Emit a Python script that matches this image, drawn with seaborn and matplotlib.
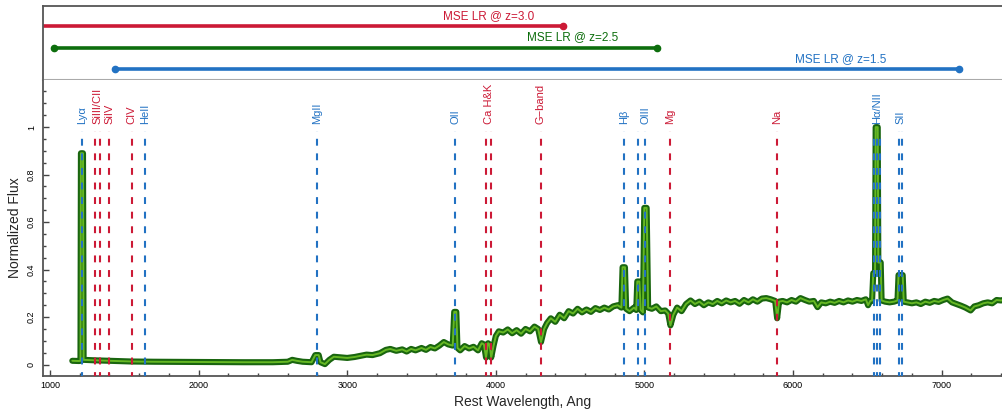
import numpy as np
import pandas as pd
import matplotlib
matplotlib.use("Agg")
import matplotlib.pyplot as plt
from matplotlib.ticker import MultipleLocator, FormatStrFormatter
import seaborn as sns

# composite spectrum (rest wavelength, normalized flux)
wave = [1150, 1195, 1205, 1208, 1222, 1226, 1300, 1400, 1550, 1700, 2000, 2300, 2500,
        2600, 2630, 2660, 2700, 2760, 2785, 2808, 2820, 2850, 2880, 2910, 2960, 3000,
        3050, 3100, 3130, 3170, 3220, 3260, 3290, 3330, 3370, 3400, 3430, 3460, 3500,
        3530, 3560, 3590, 3620, 3650, 3680, 3710, 3720, 3734, 3742, 3760, 3790, 3820,
        3850, 3880, 3905, 3920, 3934, 3948, 3958, 3969, 3985, 4000, 4020, 4050, 4080,
        4110, 4140, 4170, 4200, 4230, 4260, 4285, 4304, 4325, 4345, 4370, 4400, 4430,
        4460, 4490, 4520, 4550, 4580, 4610, 4640, 4670, 4700, 4730, 4760, 4790, 4820,
        4845, 4853, 4869, 4877, 4900, 4930, 4945, 4952, 4966, 4975, 4990, 4999, 5015,
        5025, 5050, 5080, 5110, 5140, 5160, 5175, 5195, 5220, 5250, 5280, 5310, 5340,
        5370, 5400, 5430, 5460, 5490, 5520, 5550, 5580, 5610, 5640, 5670, 5700, 5730,
        5760, 5790, 5820, 5850, 5880, 5893, 5906, 5930, 5960, 5990, 6020, 6050, 6080,
        6110, 6140, 6165, 6190, 6220, 6250, 6280, 6310, 6340, 6370, 6400, 6430, 6460,
        6490, 6505, 6520, 6532, 6540, 6552, 6556, 6570, 6574, 6590, 6596, 6620, 6650,
        6680, 6703, 6710, 6738, 6745, 6770, 6800, 6830, 6860, 6890, 6920, 6950, 6980,
        7010, 7040, 7070, 7100, 7130, 7160, 7195, 7220, 7250, 7280, 7310, 7340, 7370,
        7400, 7430]
flux = [0.016, 0.015, 0.016, 0.89, 0.89, 0.020, 0.018, 0.016, 0.013, 0.012, 0.011, 0.010, 0.010,
        0.012, 0.020, 0.016, 0.012, 0.010, 0.040, 0.040, 0.010, 0.002, 0.020, 0.033, 0.030, 0.028,
        0.032, 0.038, 0.042, 0.040, 0.048, 0.062, 0.066, 0.058, 0.064, 0.055, 0.066, 0.060, 0.070,
        0.062, 0.074, 0.068, 0.080, 0.095, 0.085, 0.080, 0.222, 0.222, 0.070, 0.060, 0.078, 0.068,
        0.075, 0.060, 0.090, 0.085, 0.030, 0.090, 0.085, 0.030, 0.080, 0.120, 0.140, 0.135, 0.148,
        0.132, 0.145, 0.130, 0.150, 0.140, 0.160, 0.150, 0.095, 0.150, 0.175, 0.195, 0.180, 0.210,
        0.195, 0.225, 0.215, 0.235, 0.220, 0.232, 0.222, 0.238, 0.230, 0.240, 0.232, 0.245, 0.250,
        0.240, 0.410, 0.410, 0.235, 0.225, 0.240, 0.230, 0.350, 0.350, 0.230, 0.220, 0.660, 0.660,
        0.240, 0.235, 0.245, 0.225, 0.228, 0.215, 0.165, 0.210, 0.240, 0.225, 0.255, 0.270, 0.255,
        0.265, 0.250, 0.262, 0.255, 0.268, 0.258, 0.270, 0.262, 0.268, 0.256, 0.272, 0.262, 0.275,
        0.265, 0.278, 0.280, 0.275, 0.268, 0.195, 0.265, 0.268, 0.262, 0.272, 0.265, 0.280, 0.272,
        0.265, 0.268, 0.242, 0.262, 0.258, 0.265, 0.260, 0.268, 0.262, 0.270, 0.265, 0.272, 0.268,
        0.275, 0.250, 0.268, 0.270, 0.385, 0.385, 1.000, 1.000, 0.430, 0.430, 0.270, 0.265, 0.262,
        0.265, 0.270, 0.377, 0.377, 0.265, 0.262, 0.258, 0.262, 0.255, 0.265, 0.260, 0.268, 0.264,
        0.272, 0.278, 0.262, 0.255, 0.248, 0.240, 0.228, 0.245, 0.250, 0.258, 0.262, 0.258, 0.272,
        0.270, 0.275]

# line markers
blue_lines = [1216, 1640, 2798, 3727, 4861, 4959, 5007, 6548, 6563, 6583, 6716, 6731]
red_lines = [1304, 1335, 1397, 1549, 3934, 3969, 4304, 5175, 5893]
blue_labels = ["Ly\u03b1", "HeII", "MgII", "OII", "H\u03b2", "OIII", "H\u03b1/NII", "SII"]
blue_label_x = [1216, 1640, 2798, 3727, 4861, 5007, 6563, 6724]
red_labels = ["SiIII/CII", "SiIV", "CIV", "Ca H&K", "G\u2212band", "Mg", "Na"]
red_label_x = [1320, 1397, 1549, 3951, 4304, 5175, 5893]

# MSE LR coverage in rest frame
cov_labels = ["MSE LR @ z=3.0", "MSE LR @ z=2.5", "MSE LR @ z=1.5"]
cov_start = [900, 1029, 1440]
cov_end = [4450, 5086, 7120]
cov_level = [3, 2, 1]
cov_text_x = [3950, 4514, 6320]

RED = "#cc1a36"
BLUE = "#2272c3"
GREEN = "#0d6e0d"

sns.set_theme(style="ticks")
plt.rcParams['font.family'] = ['Liberation Sans', 'DejaVu Sans']

fig = plt.figure(figsize=(10.03, 4.15), dpi=100)
ax_top = fig.add_axes([0.0429, 0.807, 0.9571, 0.1785])
ax = fig.add_axes([0.0429, 0.094, 0.9571, 0.713])

spec = pd.DataFrame({"wave": wave, "flux": flux})
sns.lineplot(data=spec, x="wave", y="flux", estimator=None, sort=False, ax=ax,
             color="#19650f", lw=4.4, solid_capstyle="round", solid_joinstyle="round", zorder=2)
sns.lineplot(data=spec, x="wave", y="flux", estimator=None, sort=False, ax=ax,
             color="#66b824", lw=1.4, solid_capstyle="round", solid_joinstyle="round", zorder=3)

dash = (0, (3.3, 3.7))
for w in blue_lines:
    ax.plot([w, w], [-0.06, 0.985], color=BLUE, lw=1.5, ls=dash, zorder=4)
for w in red_lines:
    ax.plot([w, w], [-0.06, 0.985], color=RED, lw=1.5, ls=dash, zorder=4)
for lab, x in zip(blue_labels, blue_label_x):
    ax.text(x, 1.012, lab, rotation=90, ha="center", va="bottom", color=BLUE, fontsize=8)
for lab, x in zip(red_labels, red_label_x):
    ax.text(x, 1.012, lab, rotation=90, ha="center", va="bottom", color=RED, fontsize=8)

ax.set_xlim(953, 7413)
ax.set_ylim(-0.048, 1.198)
ax.xaxis.set_major_locator(MultipleLocator(1000))
ax.xaxis.set_minor_locator(MultipleLocator(200))
ax.yaxis.set_major_locator(MultipleLocator(0.2))
ax.yaxis.set_minor_locator(MultipleLocator(0.05))
ax.yaxis.set_major_formatter(FormatStrFormatter('%g'))
ax.tick_params(which="both", direction="in", colors="#444444", labelcolor="black", labelsize=6.5, width=1)
ax.tick_params(which="major", length=4.5)
ax.tick_params(which="minor", length=2.5)
ax.tick_params(axis="y", labelrotation=90, pad=5)
for lbl in ax.get_yticklabels():
    lbl.set_va("center")
ax.set_xlabel("Rest Wavelength, Ang", fontsize=10, labelpad=4)
ax.set_ylabel("Normalized Flux", fontsize=10, labelpad=4)
for s in ["top", "right"]:
    ax.spines[s].set_visible(False)
for s in ["left", "bottom"]:
    ax.spines[s].set_color("#555555")
    ax.spines[s].set_linewidth(1.3)

# coverage bars
colors = [RED, GREEN, BLUE]
for lab, x0, x1, lev, tx, c in zip(cov_labels, cov_start, cov_end, cov_level, cov_text_x, colors):
    ax_top.plot([x0, x1], [lev, lev], color=c, lw=2.6, solid_capstyle="butt")
    ax_top.plot([x0, x1], [lev, lev], ls="none", marker="o", ms=4.5, color=c)
    ax_top.annotate(lab, xy=(tx, lev), xytext=(0, 3), textcoords="offset points",
                    ha="center", va="bottom", color=c, fontsize=8.5)
ax_top.set_xlim(953, 7413)
ax_top.set_ylim(0.49, 3.93)
ax_top.set_xticks([])
ax_top.set_yticks([])
ax_top.spines["right"].set_visible(False)
for s in ["left", "top"]:
    ax_top.spines[s].set_color("#555555")
    ax_top.spines[s].set_linewidth(1.3)
ax_top.spines["bottom"].set_color("#aaaaaa")
ax_top.spines["bottom"].set_linewidth(1.5)

fig.savefig("out.png", dpi=100)
